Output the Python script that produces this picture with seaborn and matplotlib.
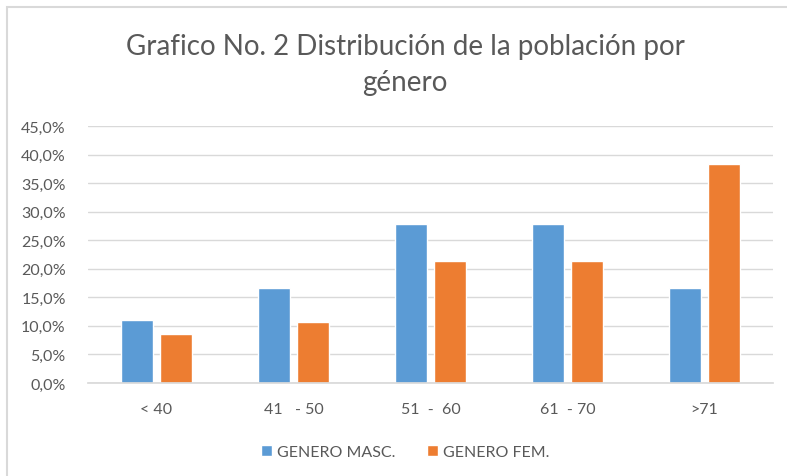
import matplotlib
matplotlib.use("Agg")
import matplotlib.pyplot as plt
import matplotlib.patches as mpatches
from matplotlib.ticker import FuncFormatter, MultipleLocator
import seaborn as sns
import pandas as pd

categories = ["< 40", "41   - 50", "51  -  60", "61  - 70", ">71"]
masc = [0.111, 0.167, 0.278, 0.278, 0.167]
fem = [0.085, 0.106, 0.213, 0.213, 0.383]
series = ["GENERO MASC.", "GENERO FEM."]
colors = ["#5B9BD5", "#ED7D31"]
title = "Grafico No. 2 Distribución de la población por\ngénero"

df = pd.DataFrame({
    "cat": categories * 2,
    "val": masc + fem,
    "serie": [series[0]] * len(categories) + [series[1]] * len(categories),
})

sns.set_theme(style="white")
plt.rcParams["font.family"] = ["Lato", "DejaVu Sans"]

W, H = 787, 477
fig = plt.figure(figsize=(W / 100, H / 100), dpi=100)
ax = fig.add_axes([88 / W, (H - 384) / H, (773 - 88) / W, (384 - 127) / H])

sns.barplot(data=df, x="cat", y="val", hue="serie", order=categories,
            hue_order=series, palette=colors, width=0.57, gap=0.2,
            saturation=1, ax=ax, legend=True)

ax.set_ylim(0, 0.45)
ax.yaxis.set_major_locator(MultipleLocator(0.05))
ax.yaxis.set_major_formatter(FuncFormatter(lambda v, p: f"{v*100:.1f}%".replace(".", ",")))
ax.grid(axis="y", color="#d9d9d9", linewidth=1)
ax.set_axisbelow(True)
for s in ["top", "right", "left"]:
    ax.spines[s].set_visible(False)
ax.spines["bottom"].set_color("#d9d9d9")
ax.set_xlabel("")
ax.set_ylabel("")
ax.tick_params(axis="both", length=0, labelsize=11.5, colors="#595959")
ax.tick_params(axis="x", pad=14)
ax.tick_params(axis="y", pad=16)

leg = ax.legend(loc="center", bbox_to_anchor=(405 / W, (H - 453) / H),
                bbox_transform=fig.transFigure, ncol=2, frameon=False,
                fontsize=11.5, handlelength=0.7, handleheight=0.7,
                handletextpad=0.3, columnspacing=2.0)
for t in leg.get_texts():
    t.set_color("#595959")

fig.text(405 / W, (H - 65) / H, title, ha="center", va="center",
         fontsize=20, color="#595959", linespacing=1.45)

fig.patches.append(mpatches.Rectangle((7 / W, -0.1), 1.2, (H - 8) / H + 0.1,
                                      transform=fig.transFigure, fill=False,
                                      edgecolor="#d9d9d9", linewidth=1.5))

fig.savefig("out.png", dpi=100)
